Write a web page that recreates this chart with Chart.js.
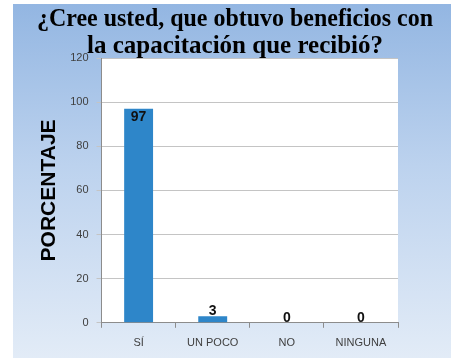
<!DOCTYPE html>
<html>
<head>
<meta charset="utf-8">
<script src="https://cdn.jsdelivr.net/npm/chart.js@4/dist/chart.umd.min.js"></script>
<style>
html, body { margin: 0; padding: 0; background: #fff; overflow: hidden; }
#box {
	position: absolute; left: 13px; top: 4px; width: 438px; height: 358px;
	background: linear-gradient(to bottom, #93b6e2 0%, #bcd2ee 45%, #e3ecf7 100%);
}
</style>
</head>
<body>
<div id="box"><canvas id="chart"></canvas></div>
<script>
const titleLines = ['¿Cree usted, que obtuvo beneficios con', 'la capacitación que recibió?']
const categories = ['SÍ', 'UN POCO', 'NO', 'NINGUNA']
const porcentaje = [97, 3, 0, 0]
const yTicks = [0, 20, 40, 60, 80, 100, 120]

// white plot area like the original sheet
const plotBg = {
	id: 'plotBg',
	beforeDraw: function (chart) {
		const a = chart.chartArea
		const ctx = chart.ctx
		ctx.save()
		ctx.fillStyle = '#ffffff'
		ctx.fillRect(a.left, a.top, a.right - a.left, a.bottom - a.top)
		ctx.restore()
	}
}

// value labels over the bars
const barLabels = {
	id: 'barLabels',
	afterDatasetsDraw: function (chart) {
		const ctx = chart.ctx
		const meta = chart.getDatasetMeta(0)
		ctx.save()
		ctx.font = 'bold 14px "Liberation Sans", Arial, sans-serif'
		ctx.fillStyle = '#111'
		ctx.textAlign = 'center'
		ctx.textBaseline = 'middle'
		meta.data.forEach(function (bar, i) {
			const v = chart.data.datasets[0].data[i]
			const y = v > 90 ? bar.y + 8 : bar.y - 5
			ctx.fillText(String(v), bar.x, y)
		})
		ctx.restore()
	}
}

new Chart(document.getElementById('chart'), {
	type: 'bar',
	data: {
		labels: categories,
		datasets: [{
			label: 'PORCENTAJE',
			data: porcentaje,
			backgroundColor: '#2E86C9',
			borderWidth: 0,
			categoryPercentage: 1,
			barPercentage: 0.39
		}]
	},
	options: {
		responsive: true,
		maintainAspectRatio: false,
		animation: false,
		layout: { padding: { left: 24, right: 18, top: 0, bottom: 3 } },
		plugins: {
			legend: { display: false },
			tooltip: { enabled: false },
			title: {
				display: true,
				text: titleLines,
				color: '#000',
				font: { family: '"Liberation Serif", "Times New Roman", serif', size: 25, weight: 'bold', lineHeight: 1.08 },
				padding: { top: 2, bottom: -2 }
			}
		},
		scales: {
			x: {
				offset: true,
				grid: { offset: true, drawOnChartArea: false, drawTicks: true, tickLength: 5, color: '#8c8c8c' },
				border: { color: '#8c8c8c' },
				ticks: { color: '#404040', padding: 9, font: { family: '"Liberation Sans", Arial, sans-serif', size: 11 } }
			},
			y: {
				min: 0,
				max: 120,
				afterBuildTicks: function (axis) { axis.ticks = yTicks.map(function (v) { return { value: v } }) },
				grid: { color: '#c4c4c4', tickLength: 5 },
				border: { color: '#8c8c8c' },
				ticks: { color: '#404040', padding: 8, font: { family: '"Liberation Sans", Arial, sans-serif', size: 11 } },
				title: {
					display: true,
					text: 'PORCENTAJE',
					color: '#000',
					font: { family: '"Liberation Sans", Arial, sans-serif', size: 21, weight: 'bold' },
					padding: { top: 0, bottom: 0 }
				}
			},
			// empty space on the right of the plot
			yRight: {
				position: 'right',
				display: true,
				grid: { display: false },
				border: { display: false },
				ticks: { display: false },
				afterFit: function (axis) { axis.width = 35 }
			}
		}
	},
	plugins: [plotBg, barLabels]
})
</script>
</body>
</html>
